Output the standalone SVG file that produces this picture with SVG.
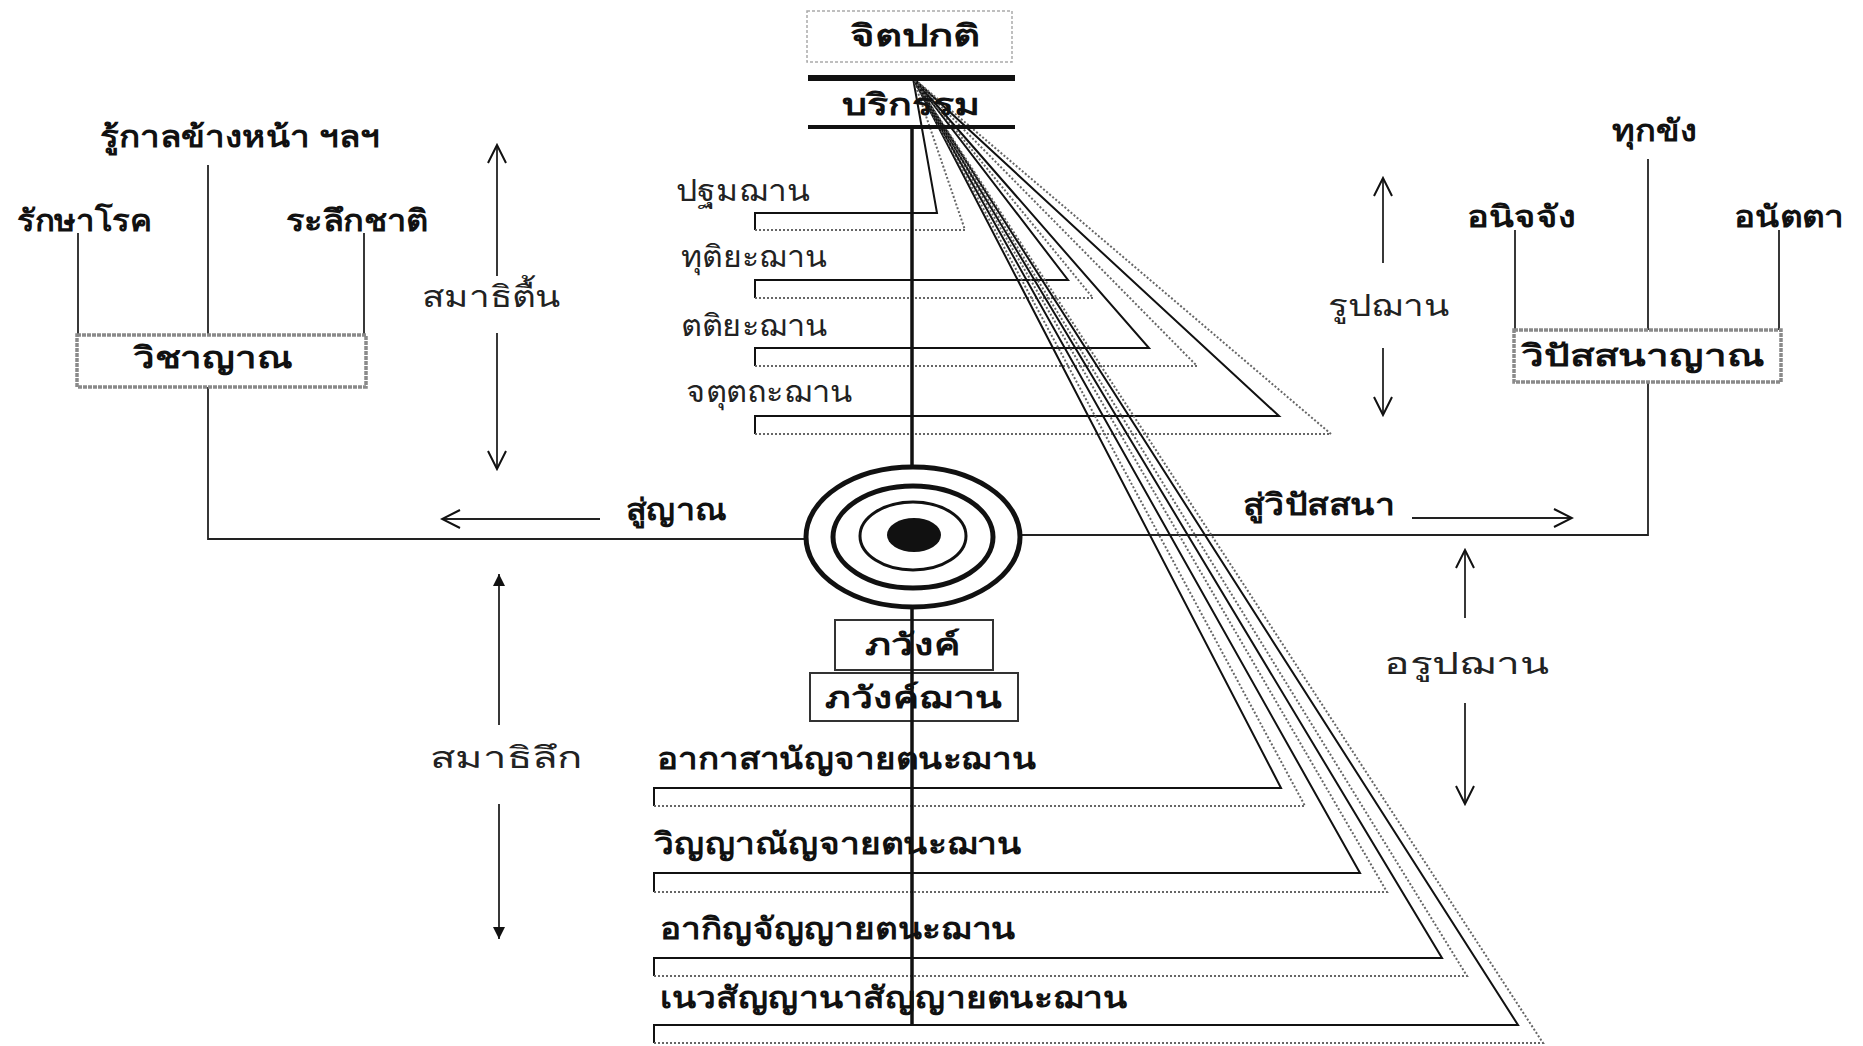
<svg xmlns="http://www.w3.org/2000/svg" width="1863" height="1046" viewBox="0 0 1863 1046">
<style>
  text { font-family: "Noto Sans", "DejaVu Sans", "Liberation Sans", sans-serif; fill: #111; }
  .b { font-weight: bold; font-size: 30px; }
  .r { font-weight: normal; font-size: 30px; fill: #222; }
  .ln { stroke: #111; stroke-width: 2; fill: none; }
  .thin { stroke: #222; stroke-width: 1.8; fill: none; }
  .dot { stroke: #666; stroke-width: 2; stroke-dasharray: 2 2; fill: none; }
  .gbox { fill: #fff; stroke: #8a8a8a; stroke-width: 3.5; stroke-dasharray: 4 1; }
  .sbox { fill: #fff; stroke: #333; stroke-width: 2; }
</style>
<defs>
  <marker id="openA" viewBox="0 0 22 22" refX="20" refY="11" markerWidth="22" markerHeight="22" markerUnits="userSpaceOnUse" orient="auto-start-reverse">
    <path d="M2,2 L20,11 L2,20" fill="none" stroke="#111" stroke-width="2"/>
  </marker>
  <marker id="fillA" viewBox="0 0 14 14" refX="13" refY="7" markerWidth="14" markerHeight="14" markerUnits="userSpaceOnUse" orient="auto-start-reverse">
    <path d="M1,1 L13,7 L1,13 Z" fill="#111"/>
  </marker>
</defs>

<!-- connectors -->
<g id="connectors">
  <!-- left tree -->
  <line class="thin" x1="208" y1="165" x2="208" y2="336"/>
  <line class="thin" x1="78" y1="233" x2="78" y2="336"/>
  <line class="thin" x1="364" y1="233" x2="364" y2="336"/>
  <polyline class="thin" points="208,387 208,539 808,539"/>
  <!-- right tree -->
  <line class="thin" x1="1648" y1="159" x2="1648" y2="330"/>
  <line class="thin" x1="1515" y1="230" x2="1515" y2="330"/>
  <line class="thin" x1="1779" y1="230" x2="1779" y2="330"/>
  <polyline class="thin" points="1648,382 1648,535 1019,535"/>
  <!-- label arrows -->
  <line class="thin" x1="600" y1="519" x2="442" y2="519" marker-end="url(#openA)"/>
  <line class="thin" x1="1412" y1="518" x2="1572" y2="518" marker-end="url(#openA)"/>
  <line class="thin" x1="497" y1="276" x2="497" y2="145" marker-end="url(#openA)"/>
  <line class="thin" x1="497" y1="333" x2="497" y2="469" marker-end="url(#openA)"/>
  <line class="thin" x1="499" y1="725" x2="499" y2="574" marker-end="url(#fillA)"/>
  <line class="thin" x1="499" y1="804" x2="499" y2="939" marker-end="url(#fillA)"/>
  <line class="thin" x1="1383" y1="263" x2="1383" y2="178" marker-end="url(#openA)"/>
  <line class="thin" x1="1383" y1="348" x2="1383" y2="415" marker-end="url(#openA)"/>
  <line class="thin" x1="1465" y1="618" x2="1465" y2="550" marker-end="url(#openA)"/>
  <line class="thin" x1="1465" y1="703" x2="1465" y2="804" marker-end="url(#openA)"/>

  <!-- fan brackets: upper (rupa jhana) -->
  <polyline class="ln" points="913,78 937,213 755,213 755,230"/>
  <polyline class="dot" points="755,230 965,230 913,78"/>
  <polyline class="ln" points="913,78 1068,280 755,280 755,298"/>
  <polyline class="dot" points="755,298 1093,298 913,78"/>
  <polyline class="ln" points="913,78 1149,348 755,348 755,366"/>
  <polyline class="dot" points="755,366 1197,366 913,78"/>
  <polyline class="ln" points="913,78 1279,416 755,416 755,434"/>
  <polyline class="dot" points="755,434 1331,434 913,78"/>
  <!-- fan brackets: lower (arupa jhana) -->
  <polyline class="ln" points="913,78 1281,788 654,788 654,806"/>
  <polyline class="dot" points="654,806 1305,806 913,78"/>
  <polyline class="ln" points="913,78 1360,873 654,873 654,892"/>
  <polyline class="dot" points="654,892 1387,892 913,78"/>
  <polyline class="ln" points="913,78 1442,958 654,958 654,976"/>
  <polyline class="dot" points="654,976 1467,976 913,78"/>
  <polyline class="ln" points="913,78 1518,1025 654,1025 654,1043"/>
  <polyline class="dot" points="654,1043 1543,1043 913,78"/>
</g>

<!-- top: จิตปกติ and บริกรรม -->
<g id="node-jitpakati">
  <rect x="807" y="11" width="205" height="51" fill="#fff" stroke="#aaa" stroke-width="1.5" stroke-dasharray="3 2"/>
  <text class="b" x="850" y="46" textLength="130" lengthAdjust="spacingAndGlyphs">จิตปกติ</text>
</g>
<g id="node-borikam">
  <text class="b" x="842" y="115" textLength="138" lengthAdjust="spacingAndGlyphs">บริกรรม</text>
  <line x1="808" y1="78" x2="1015" y2="78" stroke="#111" stroke-width="6"/>
  <line x1="808" y1="127" x2="1015" y2="127" stroke="#111" stroke-width="4"/>
</g>

<!-- rupa jhana labels -->
<g id="node-pathom"><text class="r" x="676" y="201" textLength="134" lengthAdjust="spacingAndGlyphs">ปฐมฌาน</text></g>
<g id="node-dutiya"><text class="r" x="681" y="267" textLength="146" lengthAdjust="spacingAndGlyphs">ทุติยะฌาน</text></g>
<g id="node-tatiya"><text class="r" x="681" y="336" textLength="147" lengthAdjust="spacingAndGlyphs">ตติยะฌาน</text></g>
<g id="node-jatuttha"><text class="r" x="686" y="402" textLength="167" lengthAdjust="spacingAndGlyphs">จตุตถะฌาน</text></g>

<!-- left: วิชาญาณ -->
<g id="node-rukan"><text class="b" x="100" y="147" textLength="280" lengthAdjust="spacingAndGlyphs">รู้กาลข้างหน้า ฯลฯ</text></g>
<g id="node-raksa"><text class="b" x="17" y="231" textLength="135" lengthAdjust="spacingAndGlyphs">รักษาโรค</text></g>
<g id="node-raluek"><text class="b" x="286" y="231" textLength="142" lengthAdjust="spacingAndGlyphs">ระลึกชาติ</text></g>
<g id="node-wicha">
  <rect class="gbox" x="77" y="335" width="289" height="52"/>
  <text class="b" x="133" y="368" textLength="160" lengthAdjust="spacingAndGlyphs">วิชาญาณ</text>
</g>

<g id="node-samathi-tuen"><text class="r" x="422" y="307" textLength="139" lengthAdjust="spacingAndGlyphs">สมาธิตื้น</text></g>
<g id="node-su-yan"><text class="b" x="626" y="520" textLength="101" lengthAdjust="spacingAndGlyphs">สู่ญาณ</text></g>
<g id="node-samathi-luek"><text class="r" x="430" y="768" textLength="152" lengthAdjust="spacingAndGlyphs">สมาธิลึก</text></g>

<!-- right: วิปัสสนาญาณ -->
<g id="node-dukkhang"><text class="b" x="1612" y="141" textLength="85" lengthAdjust="spacingAndGlyphs">ทุกขัง</text></g>
<g id="node-anitjang"><text class="b" x="1467" y="227" textLength="109" lengthAdjust="spacingAndGlyphs">อนิจจัง</text></g>
<g id="node-anatta"><text class="b" x="1734" y="227" textLength="110" lengthAdjust="spacingAndGlyphs">อนัตตา</text></g>
<g id="node-wipassana">
  <rect class="gbox" x="1514" y="330" width="267" height="52"/>
  <text class="b" x="1521" y="366" textLength="244" lengthAdjust="spacingAndGlyphs">วิปัสสนาญาณ</text>
</g>
<g id="node-rupa"><text class="r" x="1328" y="316" textLength="122" lengthAdjust="spacingAndGlyphs">รูปฌาน</text></g>
<g id="node-su-wipassana"><text class="b" x="1243" y="515" textLength="152" lengthAdjust="spacingAndGlyphs">สู่วิปัสสนา</text></g>
<g id="node-arupa"><text class="r" x="1384" y="674" textLength="166" lengthAdjust="spacingAndGlyphs">อรูปฌาน</text></g>

<!-- bhavanga boxes -->
<g id="node-phawang">
  <rect class="sbox" x="835" y="620" width="158" height="50"/>
  <text class="b" x="865" y="655" textLength="95" lengthAdjust="spacingAndGlyphs">ภวังค์</text>
</g>
<g id="node-phawang-chan">
  <rect class="sbox" x="810" y="673" width="208" height="48"/>
  <text class="b" x="825" y="708" textLength="177" lengthAdjust="spacingAndGlyphs">ภวังค์ฌาน</text>
</g>

<!-- arupa jhana labels -->
<g id="node-akasa"><text class="b" x="657" y="769" textLength="379" lengthAdjust="spacingAndGlyphs">อากาสานัญจายตนะฌาน</text></g>
<g id="node-winyana"><text class="b" x="654" y="854" textLength="368" lengthAdjust="spacingAndGlyphs">วิญญาณัญจายตนะฌาน</text></g>
<g id="node-akinya"><text class="b" x="660" y="939" textLength="356" lengthAdjust="spacingAndGlyphs">อากิญจัญญายตนะฌาน</text></g>
<g id="node-newa"><text class="b" x="660" y="1008" textLength="468" lengthAdjust="spacingAndGlyphs">เนวสัญญานาสัญญายตนะฌาน</text></g>

<!-- central axis -->
<line id="axis" x1="912" y1="127" x2="912" y2="1025" stroke="#111" stroke-width="3.5"/>

<!-- centre target -->
<g id="node-centre">
  <ellipse cx="913" cy="537" rx="107" ry="70" fill="#fff" stroke="#111" stroke-width="5"/>
  <ellipse cx="913" cy="537" rx="80" ry="51" fill="none" stroke="#111" stroke-width="5"/>
  <ellipse cx="913" cy="536" rx="53" ry="34" fill="none" stroke="#111" stroke-width="3"/>
  <ellipse cx="914" cy="535" rx="27" ry="17" fill="#111"/>
</g>
</svg>
